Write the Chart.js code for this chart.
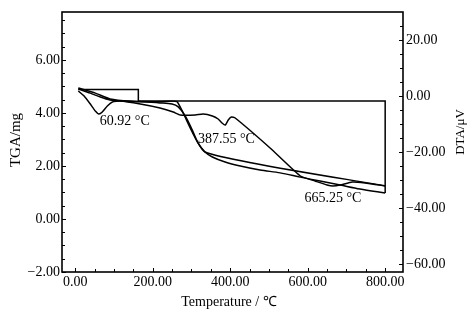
<!DOCTYPE html>
<html><head><meta charset="utf-8">
<script src="https://cdn.jsdelivr.net/npm/chart.js@4.4.1/dist/chart.umd.min.js"></script>
<style>html,body{margin:0;padding:0;background:#fff}#wrap{width:473px;height:325px}</style>
</head><body><div id="wrap"><canvas id="c" width="473" height="325"></canvas></div>
<script>
// ---- data ----
const xTickValues = [0, 200, 400, 600, 800];
const tgaTickValues = [-2, 0, 2, 4, 6];
const dtaTickValues = [-60, -40, -20, 0, 20];

// TGA curve (mass, mg)
const tgaTemp = [8, 39, 65, 90, 116, 168, 219, 250, 266, 284, 302, 317, 335, 354, 387, 426, 477, 529, 581, 632, 684, 735, 800];
const tgaMass = [4.91, 4.75, 4.60, 4.49, 4.45, 4.42, 4.38, 4.34, 4.23, 3.89, 3.36, 2.87, 2.53, 2.34, 2.15, 2.00, 1.85, 1.74, 1.58, 1.43, 1.28, 1.13, 0.98];

// second (near straight) TGA trace
const tga2Temp = [8, 52, 90, 142, 219, 263, 335, 800];
const tga2Mass = [4.94, 4.75, 4.53, 4.45, 4.42, 4.42, 2.53, 1.25];

// DTA curve (uV)
const dtaTemp = [8, 23, 39, 52, 60.92, 70, 83, 96, 116, 168, 219, 253, 271, 310, 330, 354, 369, 379, 387.55, 395, 403, 413, 503, 581, 619, 650, 665.25, 684, 715, 748, 800];
const dtaUV = [1.79, 0.0, -2.86, -5.36, -6.43, -5.71, -3.57, -2.14, -1.79, -2.86, -4.29, -5.71, -6.79, -6.79, -6.43, -7.14, -8.21, -9.64, -10.36, -8.57, -7.5, -7.86, -18.57, -28.57, -30.36, -31.79, -32.14, -31.79, -30.71, -31.07, -32.14];

// step trace
const stepTemp = [8, 163, 163, 800, 800];
const stepMass = [4.89, 4.89, 4.45, 4.45, 0.98];

// peak labels
const peakTemps = [60.92, 387.55, 665.25];
const peakLabels = ['60.92 \u00B0C', '387.55 \u00B0C', '665.25 \u00B0C'];
const peakLabelDtaY = [-8.9, -15.4, -36.4];
const peakLabelDx = [26, 1, 0];

const fmt = v => (v < 0 ? '\u2212' : '') + Math.abs(v).toFixed(2);
const pts = (xs, ys) => xs.map((x, i) => ({x, y: ys[i]}));

const FONT = '"Liberation Serif", "Times New Roman", serif';

const overlay = {
  id: 'overlay',
  afterDraw(chart) {
    const ctx = chart.ctx, a = chart.chartArea;
    const sx = chart.scales.x, sl = chart.scales.yL, sr = chart.scales.yR;
    ctx.save();
    ctx.strokeStyle = '#000';
    ctx.lineWidth = 1.6;
    ctx.strokeRect(a.left, a.top, a.right - a.left, a.bottom - a.top);
    ctx.lineWidth = 1;
    ctx.beginPath();
    for (let v = 0; v <= 800; v += 50) {
      const px = Math.round(sx.getPixelForValue(v)) + 0.5;
      const len = v % 200 === 0 ? 4 : 3;
      ctx.moveTo(px, a.bottom); ctx.lineTo(px, a.bottom - len);
    }
    for (let v = -2; v <= 7.5 + 1e-9; v += 0.5) {
      const py = Math.round(sl.getPixelForValue(v)) + 0.5;
      const len = Math.abs(v % 2) < 1e-9 ? 4 : 3;
      ctx.moveTo(a.left, py); ctx.lineTo(a.left + len, py);
    }
    for (let v = -60; v <= 25; v += 5) {
      const py = Math.round(sr.getPixelForValue(v)) + 0.5;
      const len = v % 20 === 0 ? 4 : 3;
      ctx.moveTo(a.right, py); ctx.lineTo(a.right - len, py);
    }
    ctx.stroke();

    ctx.fillStyle = '#000';
    ctx.textAlign = 'center';
    ctx.textBaseline = 'middle';
    ctx.font = '14px ' + FONT;
    peakTemps.forEach((t, i) => {
      ctx.fillText(peakLabels[i], sx.getPixelForValue(t) + peakLabelDx[i], sr.getPixelForValue(peakLabelDtaY[i]));
    });

    ctx.font = '14px ' + FONT;
    ctx.fillText('Temperature / \u2103', 229, 302);

    ctx.save();
    ctx.translate(16, 140);
    ctx.rotate(-Math.PI / 2);
    ctx.font = '15px ' + FONT;
    ctx.fillText('TGA/mg', 0, 0);
    ctx.restore();

    ctx.save();
    ctx.translate(461, 132);
    ctx.rotate(-Math.PI / 2);
    ctx.font = '13px ' + FONT;
    ctx.fillText('DTA/\u03BCV', 0, 0);
    ctx.restore();
    ctx.restore();
  }
};

const lineDs = (label, data, axis, tension) => ({
  label, data, yAxisID: axis, showLine: true, borderColor: '#000', borderWidth: 1.5,
  pointRadius: 0, tension, fill: false
});

new Chart(document.getElementById('c'), {
  type: 'scatter',
  data: {
    datasets: [
      lineDs('TGA', pts(tgaTemp, tgaMass), 'yL', 0.3),
      lineDs('TGA2', pts(tga2Temp, tga2Mass), 'yL', 0.15),
      lineDs('DTA', pts(dtaTemp, dtaUV), 'yR', 0.15),
      lineDs('Step', pts(stepTemp, stepMass), 'yL', 0)
    ]
  },
  options: {
    responsive: false,
    devicePixelRatio: 1,
    animation: false,
    layout: {padding: {top: 12, left: 0, right: 0, bottom: 0}},
    plugins: {legend: {display: false}, tooltip: {enabled: false}},
    scales: {
      x: {
        type: 'linear', position: 'bottom', min: -34, max: 846,
        afterFit: s => { s.height = 53; },
        afterBuildTicks: s => { s.ticks = xTickValues.map(v => ({value: v})); },
        grid: {display: false, drawTicks: false}, border: {display: false},
        ticks: {padding: 2, color: '#000', font: {family: FONT, size: 14}, callback: v => fmt(v), maxRotation: 0, autoSkip: false}
      },
      yL: {
        type: 'linear', position: 'left', min: -2, max: 7.81,
        afterFit: s => { s.width = 62; },
        afterBuildTicks: s => { s.ticks = tgaTickValues.map(v => ({value: v})); },
        grid: {display: false, drawTicks: false}, border: {display: false},
        ticks: {padding: 2, color: '#000', font: {family: FONT, size: 14}, callback: v => fmt(v), autoSkip: false}
      },
      yR: {
        type: 'linear', position: 'right', min: -62.86, max: 30,
        afterFit: s => { s.width = 70; },
        afterBuildTicks: s => { s.ticks = dtaTickValues.map(v => ({value: v})); },
        grid: {display: false, drawTicks: false}, border: {display: false},
        ticks: {padding: 3, color: '#000', font: {family: FONT, size: 14}, callback: v => fmt(v), autoSkip: false}
      }
    }
  },
  plugins: [overlay]
});
</script></body></html>
